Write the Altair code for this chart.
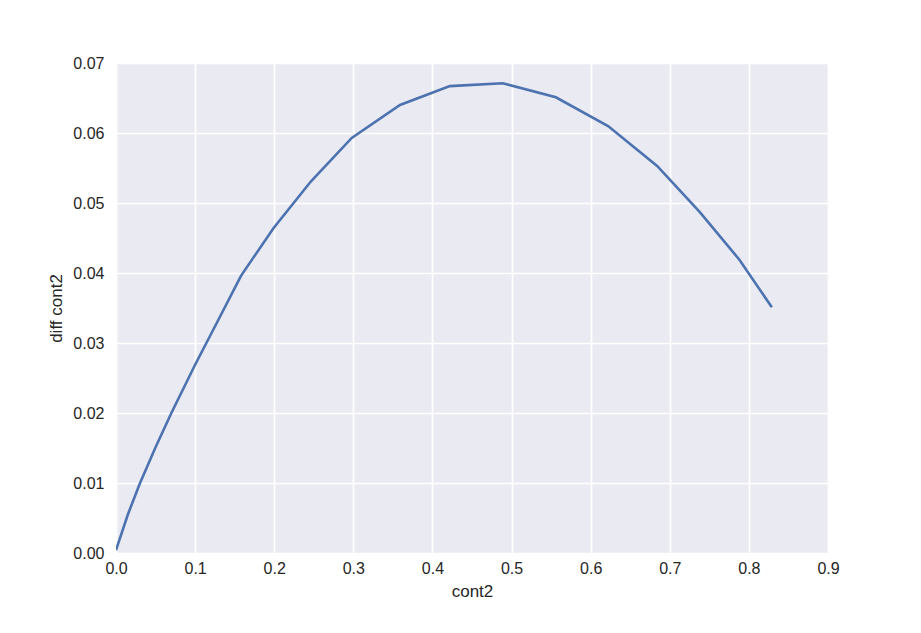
import altair as alt
import pandas as pd

cont2 = [0.0, 0.015, 0.03, 0.05, 0.07, 0.1, 0.128, 0.158, 0.199, 0.2465, 0.298, 0.359, 0.422, 0.489, 0.556, 0.622, 0.684, 0.738, 0.788, 0.829]
diff_cont2 = [0.0004, 0.0055, 0.0099, 0.0151, 0.0200, 0.0269, 0.0330, 0.0396, 0.0464, 0.0531, 0.0593, 0.0640, 0.0667, 0.0671, 0.0651, 0.0610, 0.0553, 0.0487, 0.0419, 0.0351]

df = pd.DataFrame({"cont2": cont2, "diff cont2": diff_cont2})

font = "Liberation Sans"

chart = alt.Chart(df).mark_line(color="#4C72B0", strokeWidth=2.6, clip=True).encode(
    x=alt.X("cont2:Q", title="cont2",
            scale=alt.Scale(domain=[0, 0.9], nice=False, zero=False),
            axis=alt.Axis(values=[0, 0.1, 0.2, 0.3, 0.4, 0.5, 0.6, 0.7, 0.8, 0.9], format=".1f",
                          labelPadding=7, titlePadding=7, labelFlush=False)),
    y=alt.Y("diff cont2:Q", title="diff cont2",
            scale=alt.Scale(domain=[0, 0.07], nice=False),
            axis=alt.Axis(values=[0, 0.01, 0.02, 0.03, 0.04, 0.05, 0.06, 0.07], format=".2f",
                          labelPadding=12, titlePadding=7, labelFlush=False)),
).properties(
    width=712, height=490,
    background="white",
    autosize=alt.AutoSizeParams(type="none"),
    padding={"left": 108, "top": 55, "right": 85, "bottom": 60},
).configure_view(
    fill="#EAEAF2", stroke=None
).configure_axis(
    grid=True, gridColor="white", gridWidth=1.7, domain=False, ticks=False,
    labelFont=font, labelFontSize=16, labelColor="#262626",
    titleFont=font, titleFontSize=17, titleColor="#262626", titleFontWeight="normal",
)

chart.save("out.html", embed_options={"renderer": "svg", "actions": False})
